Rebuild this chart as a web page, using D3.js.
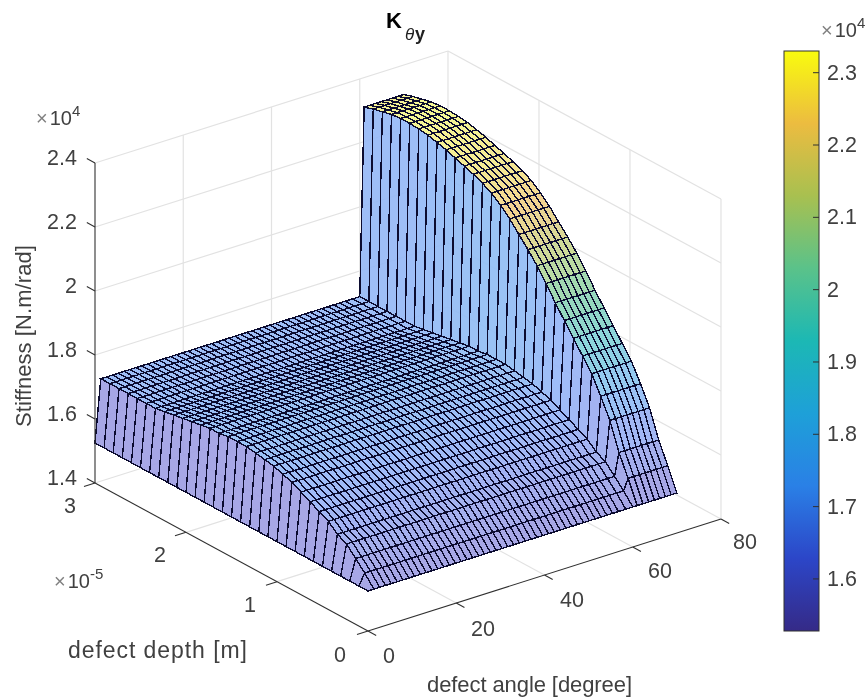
<!DOCTYPE html>
<html>
<head>
<meta charset="utf-8">
<script src="https://cdn.jsdelivr.net/npm/d3@7"></script>
<style>
  html, body { margin: 0; background: #fff; }
  svg { display: block; filter: blur(0.4px); }
  text { font-family: "Liberation Sans", Arial, sans-serif; fill: #404040; }
  .tick-label { font-size: 21.5px; }
  .axis-label { font-size: 22px; }
</style>
</head>
<body>
<svg width="868" height="700"></svg>
<script>
// grid of the surface
const defectAngle = [0, 1.32, 2.64, 3.96, 5.28, 6.6, 7.92, 9.24, 10.56, 11.88, 13.2, 14.52, 15.84, 17.16,
    18.48, 19.8, 21.12, 22.44, 23.76, 25.08, 26.4, 27.72, 29.04, 30.36, 31.68, 33, 34.32, 35.64, 36.96,
    38.28, 39.6, 40.92, 42.24, 43.56, 44.88, 46.2, 47.52, 48.84, 50.16, 51.48, 52.8, 54.12, 55.44, 56.76,
    58.4, 60, 61, 62.3, 63.6, 64.9, 66.1, 67.4, 68.7, 70];
const defectDepth = [0, 0.1, 0.2, 0.3, 0.4, 0.5, 0.6, 0.7, 0.8, 0.9, 1, 1.1, 1.2, 1.3, 1.4, 1.5, 1.6, 1.7,
    1.8, 1.9, 2, 2.1, 2.2, 2.3, 2.4, 2.5, 2.6, 2.7, 2.8, 2.9, 3];

// stiffness (x 1e4) along the depth axis
const stiffnessLow = [1.525, 1.56, 1.59, 1.62, 1.635, 1.66, 1.675, 1.69, 1.705, 1.72, 1.73, 1.74, 1.745,
    1.75, 1.755, 1.755, 1.755, 1.75, 1.75, 1.745, 1.74, 1.735, 1.73, 1.725, 1.72, 1.72, 1.72, 1.72, 1.72, 1.72, 1.72];
const stiffnessHigh = [1.525, 1.595, 1.66, 1.745, 1.805, 1.86, 1.9, 1.94, 1.98, 2.02, 2.065, 2.105, 2.14,
    2.172, 2.205, 2.232, 2.255, 2.27, 2.283, 2.293, 2.303, 2.313, 2.321, 2.328, 2.332, 2.334, 2.334, 2.331,
    2.324, 2.317, 2.308];
const wallIndex = 46; // first angle index on the high side

// faded face colours seen on the surface
const faceZ = [1.525, 1.7, 1.8, 1.9, 2, 2.1, 2.2, 2.33];
const faceColors = ["#a09fe4", "#98b6f8", "#8cc4f0", "#82d2d8", "#8ed6b0", "#c8d890", "#f2cf88", "#f4f48c"];

// colorbar
const parulaStops = ["#352a87", "#2c46c8", "#2a80e6", "#1ea0d8", "#1cb8b4", "#5ac28a", "#a8c050", "#ecbc40", "#f9fb0e"];
const colorbarTicks = [1.6, 1.7, 1.8, 1.9, 2, 2.1, 2.2, 2.3];

const angleTicks = [0, 20, 40, 60, 80];
const angleLabelX = [389, 483, 572, 660, 745];
const angleLabelY = [663, 636, 607, 578, 549];
const depthTicks = [0, 1, 2, 3];
const depthLabelX = [340, 250, 160, 70];
const depthLabelY = [662, 612, 562, 513];
const stiffnessTicks = [1.4, 1.6, 1.8, 2, 2.2, 2.4];

const svg = d3.select("svg");

// projection of the 3d box on the page
const originX = 368, originY = 631;
const angleDx = d3.scaleLinear().domain([0, 80]).range([0, 353]);
const angleDy = d3.scaleLinear().domain([0, 80]).range([0, -112]);
const depthDx = d3.scaleLinear().domain([0, 3]).range([0, -273]);
const depthDy = d3.scaleLinear().domain([0, 3]).range([0, -148]);
const stiffDy = d3.scaleLinear().domain([1.4, 2.4]).range([0, -320]);

function project(a, d, z) {
    return [originX + angleDx(a) + depthDx(d), originY + angleDy(a) + depthDy(d) + stiffDy(z)];
}

function seg(g, p, q, cls) {
    return g.append("line")
        .attr("x1", p[0]).attr("y1", p[1])
        .attr("x2", q[0]).attr("y2", q[1])
        .attr("class", cls);
}

// back planes grid
const grid = svg.append("g").attr("stroke", "#e2e2e2").attr("stroke-width", 1.2);
angleTicks.slice(1, -1).forEach(a => {
    seg(grid, project(a, 0, 1.4), project(a, 3, 1.4));
    seg(grid, project(a, 3, 1.4), project(a, 3, 2.4));
});
depthTicks.slice(0, -1).forEach(d => {
    seg(grid, project(80, d, 2.4), project(80, d, 1.4));
    if (d > 0) seg(grid, project(0, d, 1.4), project(80, d, 1.4));
});
stiffnessTicks.slice(1).forEach(z => {
    seg(grid, project(0, 3, z), project(80, 3, z));
    seg(grid, project(80, 3, z), project(80, 0, z));
});
seg(grid, project(0, 3, 1.4), project(80, 3, 1.4));
seg(grid, project(80, 3, 1.4), project(80, 0, 1.4));
seg(grid, project(80, 3, 1.4), project(80, 3, 2.4));

// surface values
function zAt(i, j) {
    if (i === 0) return stiffnessLow[0];
    return i < wallIndex ? stiffnessLow[j] : stiffnessHigh[j];
}
const faceColor = d3.scaleLinear().domain(faceZ).range(faceColors);

const cells = [];
for (let i = defectAngle.length - 2; i >= 0; i--) {
    for (let j = defectDepth.length - 2; j >= 0; j--) {
        cells.push({ i: i, j: j });
    }
}
const surfaceLine = d3.line();
svg.append("g")
    .attr("shape-rendering", "crispEdges")
    .selectAll("path")
    .data(cells)
    .enter()
    .append("path")
    .attr("d", c => surfaceLine([
        project(defectAngle[c.i], defectDepth[c.j], zAt(c.i, c.j)),
        project(defectAngle[c.i + 1], defectDepth[c.j], zAt(c.i + 1, c.j)),
        project(defectAngle[c.i + 1], defectDepth[c.j + 1], zAt(c.i + 1, c.j + 1)),
        project(defectAngle[c.i], defectDepth[c.j + 1], zAt(c.i, c.j + 1))
    ]) + "Z")
    .attr("fill", c => faceColor(zAt(c.i, c.j)))
    .attr("fill-opacity", 0.92)
    .attr("stroke", "#0c0c30")
    .attr("stroke-width", 1.4);

// axis lines and ticks
const axes = svg.append("g").attr("stroke", "#303030").attr("stroke-width", 1.1);
seg(axes, project(0, 0, 1.4), project(80, 0, 1.4));
seg(axes, project(0, 0, 1.4), project(0, 3, 1.4));
seg(axes, project(0, 3, 1.4), project(0, 3, 2.4));
angleTicks.forEach(a => seg(axes, project(a, 0, 1.4), project(a, -0.09, 1.4)));
depthTicks.forEach(d => seg(axes, project(0, d, 1.4), project(-2.5, d, 1.4)));
stiffnessTicks.forEach(z => seg(axes, project(0, 3, z), project(0, 3.09, z)));

// tick labels
function label(x, y, txt, anchor, cls) {
    return svg.append("text").attr("x", x).attr("y", y)
        .attr("text-anchor", anchor || "middle")
        .attr("class", cls || "tick-label")
        .text(txt);
}
stiffnessTicks.forEach(z => {
    label(77, project(0, 3, z)[1] + 1.5, String(z), "end");
});
depthTicks.forEach((d, k) => label(depthLabelX[k], depthLabelY[k], String(d)));
angleTicks.forEach((a, k) => label(angleLabelX[k], angleLabelY[k], String(a)));

label(68, 658, "defect depth [m]", "start", "axis-label")
    .attr("textLength", 179).style("font-size", "23px");
label(427, 692, "defect angle [degree]", "start", "axis-label")
    .attr("textLength", 205);
svg.append("text").attr("class", "axis-label")
    .attr("transform", "translate(31,427) rotate(-90)")
    .attr("textLength", 182)
    .text("Stiffness [N.m/rad]");

// exponent labels
function exponent(x, y, pow) {
    const t = svg.append("text").attr("x", x).attr("y", y).style("font-size", "20px");
    t.append("tspan").style("fill", "#808080").text("\u00d7");
    t.append("tspan").attr("dx", 2).text("10");
    t.append("tspan").attr("dy", -9).style("font-size", "15px").text(pow);
}
exponent(36, 125, "4");
exponent(54, 588, "-5");
exponent(821, 37, "4");

// title
svg.append("text").attr("x", 386).attr("y", 28).attr("font-weight", "bold")
    .style("fill", "#000").style("font-size", "22px").text("K");
svg.append("text").attr("x", 405).attr("y", 40).attr("font-style", "italic")
    .style("fill", "#202020").style("font-size", "17px").text("\u03b8");
svg.append("text").attr("x", 415).attr("y", 40).attr("font-weight", "bold")
    .style("fill", "#202020").style("font-size", "18px").text("y");

// colorbar
const barX = 784, barW = 35;
const cbar = d3.scaleLinear().domain([1.528, 2.33]).range([631, 51]);
const grad = svg.append("defs").append("linearGradient").attr("id", "parula")
    .attr("x1", 0).attr("y1", 1).attr("x2", 0).attr("y2", 0);
parulaStops.forEach((c, k) => {
    grad.append("stop").attr("offset", k / (parulaStops.length - 1)).attr("stop-color", c);
});
svg.append("rect").attr("x", barX).attr("y", 51).attr("width", barW).attr("height", 580)
    .attr("fill", "url(#parula)").attr("stroke", "#303030").attr("stroke-width", 1);
colorbarTicks.forEach(v => {
    svg.append("line").attr("x1", barX + barW - 6).attr("x2", barX + barW)
        .attr("y1", cbar(v)).attr("y2", cbar(v))
        .attr("stroke", "#303030");
    label(827, cbar(v) + 7, String(v), "start");
});
</script>
</body>
</html>
